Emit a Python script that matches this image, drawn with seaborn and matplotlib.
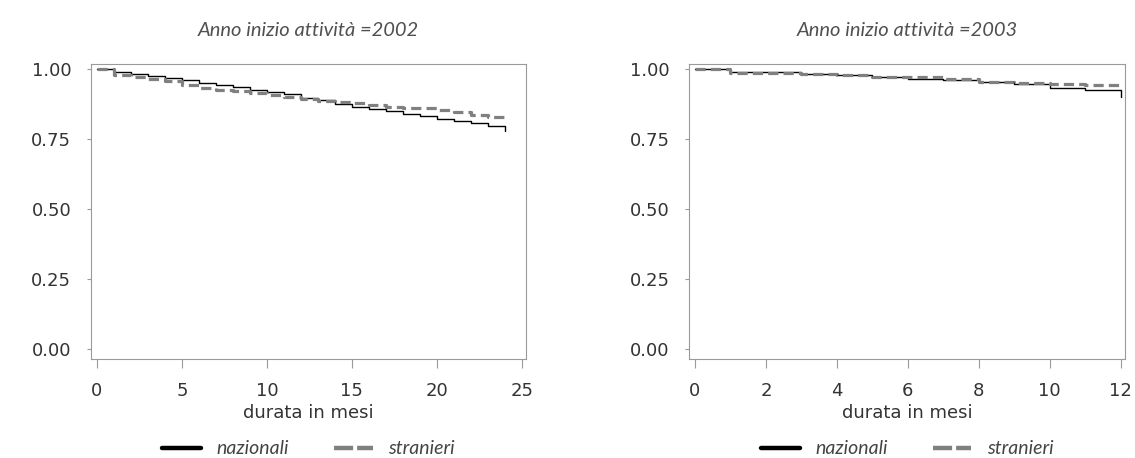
import numpy as np
import pandas as pd
import matplotlib
matplotlib.use("Agg")
import matplotlib.pyplot as plt
from matplotlib.lines import Line2D
import seaborn as sns

# ---- data ----
mesi_2002 = list(range(0, 25))
nazionali_2002 = [1.000, 0.990, 0.982, 0.976, 0.969, 0.961, 0.952, 0.945, 0.937, 0.927,
                  0.919, 0.911, 0.899, 0.889, 0.875, 0.865, 0.857, 0.850, 0.842, 0.833,
                  0.824, 0.815, 0.807, 0.798, 0.780]
stranieri_2002 = [1.000, 0.980, 0.974, 0.964, 0.957, 0.943, 0.932, 0.926, 0.923, 0.917,
                  0.910, 0.902, 0.893, 0.887, 0.883, 0.881, 0.873, 0.867, 0.863, 0.861,
                  0.854, 0.849, 0.838, 0.830, 0.830]

mesi_2003 = list(range(0, 13))
nazionali_2003 = [1.000, 0.990, 0.990, 0.982, 0.980, 0.974, 0.964, 0.962, 0.955, 0.946,
                  0.932, 0.925, 0.902]
stranieri_2003 = [1.000, 0.988, 0.988, 0.982, 0.980, 0.974, 0.973, 0.964, 0.956, 0.950,
                  0.946, 0.943, 0.943]

gruppi = ["nazionali", "stranieri"]
titoli = ["Anno inizio attività =2002", "Anno inizio attività =2003"]
y_ticks = [0.0, 0.25, 0.50, 0.75, 1.0]
x_ticks_2002 = [0, 5, 10, 15, 20, 25]
x_ticks_2003 = [0, 2, 4, 6, 8, 10, 12]
x_label = "durata in mesi"


def long_df(mesi, naz, stra):
    return pd.concat([
        pd.DataFrame({"mesi": mesi, "sopravvivenza": naz, "gruppo": "nazionali"}),
        pd.DataFrame({"mesi": mesi, "sopravvivenza": stra, "gruppo": "stranieri"}),
    ], ignore_index=True)


df2002 = long_df(mesi_2002, nazionali_2002, stranieri_2002)
df2003 = long_df(mesi_2003, nazionali_2003, stranieri_2003)

sns.set_theme(style="white")
plt.rcParams["font.family"] = ["DejaVu Sans"]

TXT = "#333333"
SPINE = "#9a9a9a"
palette = {"nazionali": "black", "stranieri": "#808080"}
sizes = {"nazionali": 1.0, "stranieri": 2.3}
dashes = {"nazionali": "", "stranieri": (3.2, 1.6)}
ITAL = {"family": ["Lato", "DejaVu Sans"], "style": "italic", "weight": "normal"}

W, H = 1135, 458
fig = plt.figure(figsize=(W / 100, H / 100), dpi=100)
bottom = 1 - 359 / H
height = (359 - 64) / H
ax1 = fig.add_axes([90.7 / W, bottom, (526 - 90.7) / W, height])
ax2 = fig.add_axes([689.3 / W, bottom, (1125.3 - 689.3) / W, height])

panels = [
    (ax1, df2002, x_ticks_2002, (-0.37, 25.25), titoli[0]),
    (ax2, df2003, x_ticks_2003, (-0.16, 12.13), titoli[1]),
]

for ax, df, xt, xl, tit in panels:
    sns.lineplot(data=df, x="mesi", y="sopravvivenza", hue="gruppo", style="gruppo",
                 size="gruppo", palette=palette, sizes=sizes, dashes=dashes,
                 hue_order=gruppi, style_order=gruppi, size_order=gruppi,
                 drawstyle="steps-post", estimator=None, legend=False, ax=ax)
    ax.set_xlim(*xl)
    ax.set_ylim(-0.035, 1.019)
    ax.set_xticks(xt)
    ax.set_yticks(y_ticks)
    ax.set_yticklabels([f"{v:.2f}" for v in y_ticks])
    ax.tick_params(axis="x", length=6.5, width=0.8, color=SPINE, pad=10,
                   labelsize=13, labelcolor=TXT, bottom=True)
    ax.tick_params(axis="y", length=3, width=0.8, color=SPINE, pad=11,
                   labelsize=13, labelcolor=TXT, left=True)
    for s in ax.spines.values():
        s.set_visible(True)
        s.set_color(SPINE)
        s.set_linewidth(0.8)
    ax.set_xlabel(x_label, fontsize=13, color=TXT, labelpad=3)
    ax.set_ylabel("")
    ax.set_title(tit, fontsize=14.5, color="#505050", pad=20, **ITAL)
    ax.grid(False)

    handles = [
        Line2D([], [], color="black", lw=3.2),
        Line2D([], [], color="#808080", lw=3.2, dashes=(4.3, 0.9)),
    ]
    ax.legend(handles, gruppi, loc="center", bbox_to_anchor=(0.5, (359 - 449) / (359 - 64)),
              ncol=2, frameon=False, handlelength=2.0, handletextpad=0.8,
              columnspacing=2.3,
              prop={**ITAL, "size": 14}, labelcolor="#444444")

fig.savefig("out.png", dpi=100, facecolor="white")
